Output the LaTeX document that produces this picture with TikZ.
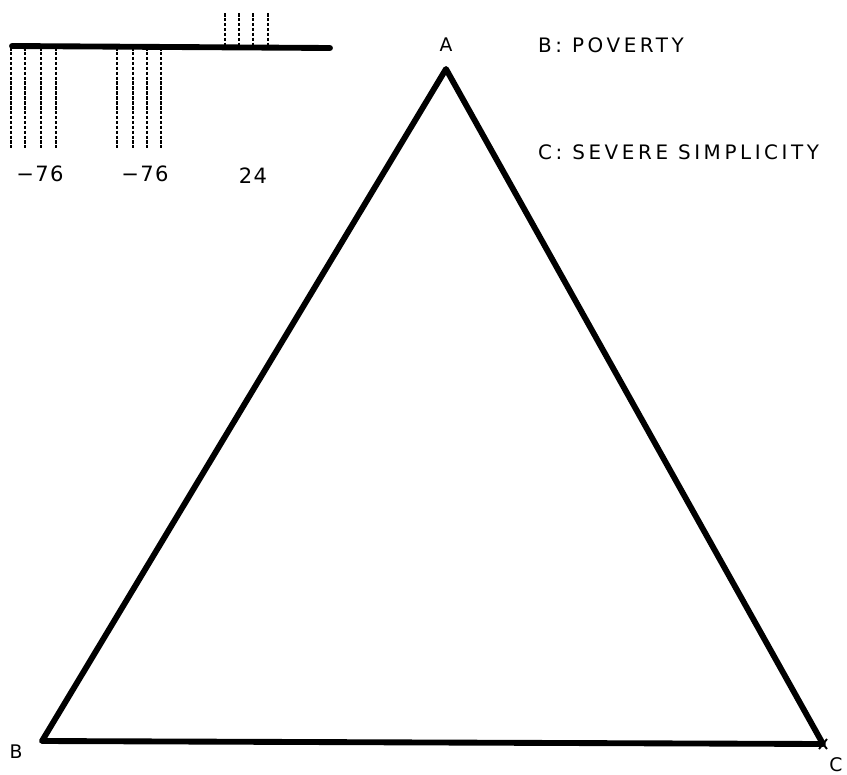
\documentclass[tikz,border=0pt]{standalone}
\usepackage{fontspec}
\setmainfont{DejaVu Sans}
\newfontfamily\plotfont[LetterSpace=18]{DejaVu Sans}
\newfontfamily\numfont[LetterSpace=6]{DejaVu Sans}

\tikzset{
    tri edge/.style={line width=5pt, line join=round, line cap=round},
    bar line/.style={line width=5pt, line cap=round},
    tick dash/.style={line width=1.8pt, dash pattern=on 3pt off 1.2pt},
    vertex label/.style={font=\plotfont\fontsize{16}{16}\selectfont, inner sep=0pt},
    value label/.style={font=\numfont\fontsize{18}{18}\selectfont, inner sep=0pt},
    legend text/.style={font=\plotfont\fontsize{17}{17}\selectfont,
                        inner sep=0pt, anchor=west},
}

\begin{document}
\begin{tikzpicture}[x=0.3mm, y=-0.3mm]
    \useasboundingbox (0,0) rectangle (847,775);
    % Triangle corners
    \coordinate (A) at (446,69);
    \coordinate (B) at (42,741);
    \coordinate (C) at (823,744);
    \draw[tri edge] (A) -- (B) -- (C) -- cycle;
    % Small cross at C
    \draw[line width=1.6pt] ([shift={(-4,-5)}]C) -- ([shift={(4,5)}]C)
                            ([shift={(-4,5)}]C) -- ([shift={(4,-5)}]C);
    % Corner labels
    \node[vertex label] (labA) at (446,45) {A};
    \node[vertex label] (labB) at (16,752) {B};
    \node[vertex label] (labC) at (836,765) {C};
    % Legend
    \node[legend text] (legB) at (538,45) {B:\ POVERTY};
    \node[legend text] (legC) at (538,152) {C:\ SEVERE SIMPLICITY};

    % Bar with its dashed ticks
    \coordinate (bar0) at (12,46);
    \coordinate (bar1) at (330,48);
    \draw[bar line] (bar0) -- (bar1);
    % First group, below the bar
    \coordinate (d1t) at (11,47);  \coordinate (d1b) at (11,148);
    \coordinate (d2t) at (25,47);  \coordinate (d2b) at (25,148);
    \coordinate (d3t) at (41,47);  \coordinate (d3b) at (41,148);
    \coordinate (d4t) at (56,47);  \coordinate (d4b) at (56,148);
    \draw[tick dash] (d1t) -- (d1b);
    \draw[tick dash] (d2t) -- (d2b);
    \draw[tick dash] (d3t) -- (d3b);
    \draw[tick dash] (d4t) -- (d4b);
    % Second group, below the bar
    \coordinate (e1t) at (117,47); \coordinate (e1b) at (117,148);
    \coordinate (e2t) at (133,47); \coordinate (e2b) at (133,148);
    \coordinate (e3t) at (147,47); \coordinate (e3b) at (147,148);
    \coordinate (e4t) at (161,47); \coordinate (e4b) at (161,148);
    \draw[tick dash] (e1t) -- (e1b);
    \draw[tick dash] (e2t) -- (e2b);
    \draw[tick dash] (e3t) -- (e3b);
    \draw[tick dash] (e4t) -- (e4b);
    % Third group, above the bar
    \coordinate (f1t) at (225,13); \coordinate (f1b) at (225,47);
    \coordinate (f2t) at (239,13); \coordinate (f2b) at (239,47);
    \coordinate (f3t) at (253,13); \coordinate (f3b) at (253,47);
    \coordinate (f4t) at (268,13); \coordinate (f4b) at (268,47);
    \draw[tick dash] (f1t) -- (f1b);
    \draw[tick dash] (f2t) -- (f2b);
    \draw[tick dash] (f3t) -- (f3b);
    \draw[tick dash] (f4t) -- (f4b);
    % Group values
    \node[value label] (valD) at (40,174) {−76};
    \node[value label] (valE) at (145,174) {−76};
    \node[value label] (valF) at (253,176) {24};
\end{tikzpicture}
\end{document}
